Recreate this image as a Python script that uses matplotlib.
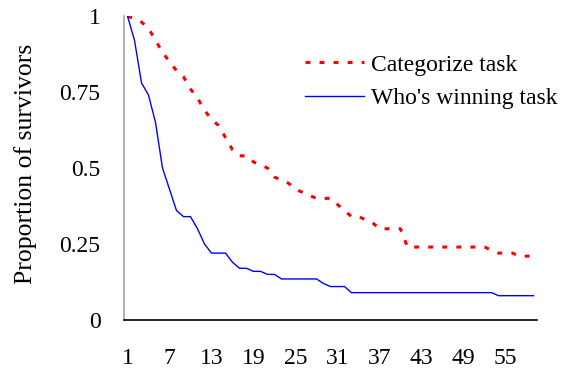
import matplotlib
matplotlib.use("Agg")
import matplotlib.pyplot as plt
import numpy as np

plt.rcParams['font.family'] = ['Liberation Serif', 'DejaVu Serif']

# survival proportions per trial
trials = list(range(1, 60))
categorize = [1.00, 0.99, 0.98, 0.96, 0.92, 0.88, 0.85, 0.82, 0.80, 0.76,
              0.73, 0.69, 0.66, 0.64, 0.60, 0.56, 0.54, 0.54, 0.52, 0.51,
              0.50, 0.47, 0.46, 0.45, 0.43, 0.42, 0.41, 0.40, 0.40, 0.40,
              0.38, 0.36, 0.34, 0.34, 0.33, 0.32, 0.30, 0.30, 0.30, 0.30,
              0.24, 0.24, 0.24, 0.24, 0.24, 0.24, 0.24, 0.24, 0.24, 0.24,
              0.24, 0.24, 0.23, 0.22, 0.22, 0.22, 0.21, 0.21, 0.21]
whos_winning = [1.00, 0.92, 0.78, 0.74, 0.65, 0.50, 0.43, 0.36, 0.34, 0.34,
                0.30, 0.25, 0.22, 0.22, 0.22, 0.19, 0.17, 0.17, 0.16, 0.16,
                0.15, 0.15, 0.135, 0.135, 0.135, 0.135, 0.135, 0.135, 0.12, 0.11,
                0.11, 0.11, 0.09, 0.09, 0.09, 0.09, 0.09, 0.09, 0.09, 0.09,
                0.09, 0.09, 0.09, 0.09, 0.09, 0.09, 0.09, 0.09, 0.09, 0.09,
                0.09, 0.09, 0.09, 0.08, 0.08, 0.08, 0.08, 0.08, 0.08]
series_names = ["Categorize task", "Who's winning task"]
xtick_vals = list(range(1, 60, 6))
ytick_vals = [0, 0.25, 0.5, 0.75, 1]
ytick_labels = ["0", "0.25", "0.5", "0.75", "1"]

fig = plt.figure(figsize=(5.76, 3.72), dpi=100)
ax = fig.add_axes([124/576, 1 - 320/372, 413/576, 304/372])

ax.plot(trials, categorize, color='#ff0000', lw=2.2, linestyle=(0, (1.6, 3.0)),
        label=series_names[0])
ax.plot(trials, whos_winning, color='#0000ff', lw=1.0, label=series_names[1])

ax.set_xlim(0.5, 59.5)
ax.set_ylim(0, 1)
ax.set_xticks(xtick_vals)
ax.set_yticks(ytick_vals)
ax.set_yticklabels(ytick_labels)
ax.tick_params(axis='both', length=0, labelsize=17)
ax.tick_params(axis='x', pad=20)
ax.tick_params(axis='y', pad=17)

for s in ['top', 'right']:
    ax.spines[s].set_visible(False)
ax.spines['left'].set_color('#a6a6a6')
ax.spines['left'].set_linewidth(1.2)
ax.spines['bottom'].set_color('black')
ax.spines['bottom'].set_linewidth(1.2)

fig.text(26/576, 1 - 164/372, "Proportion of survivors", rotation=90,
         ha='center', va='center', fontsize=18.5)

ax.legend(loc='upper left', bbox_to_anchor=(305/576, 1 - 54/372),
          bbox_transform=fig.transFigure, frameon=False, fontsize=17,
          handlelength=2.5, handletextpad=0.3, labelspacing=0.5,
          borderpad=0, borderaxespad=0)

fig.savefig("out.png", dpi=100)
